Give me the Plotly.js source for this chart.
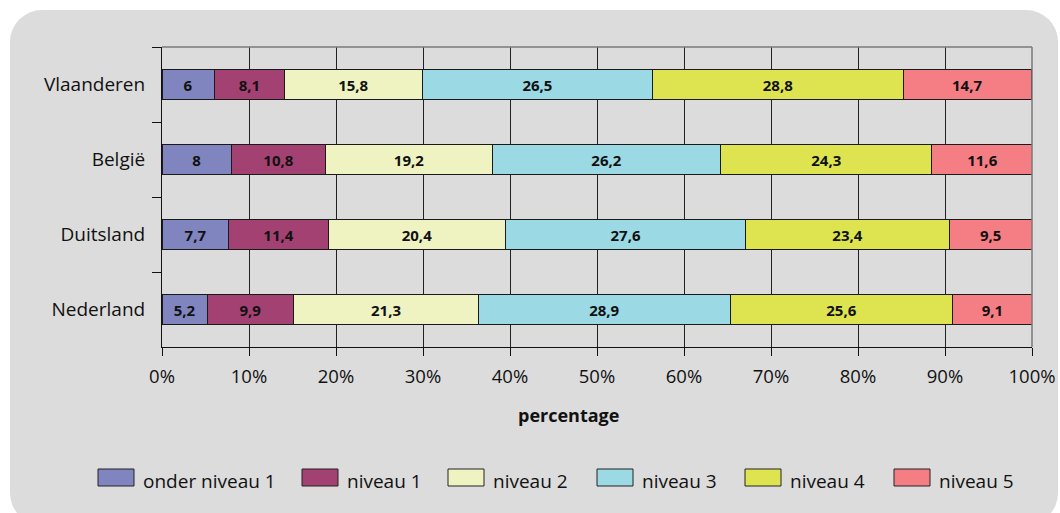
<!DOCTYPE html>
<html>
<head>
<meta charset="utf-8">
<script src="https://cdn.plot.ly/plotly-3.0.1.min.js"></script>
<style>
html,body{margin:0;padding:0;background:#ffffff;width:1060px;height:513px;overflow:hidden;}
#bg{position:absolute;left:10px;top:10px;width:1048px;height:515px;background:#dcdcdc;border-radius:32px;}
#chart{position:absolute;left:0;top:0;width:1060px;height:513px;}
</style>
</head>
<body>
<div id="bg"></div>
<div id="chart"></div>
<script>
const countries = ["Vlaanderen", "België", "Duitsland", "Nederland"];
const seriesNames = ["onder niveau 1", "niveau 1", "niveau 2", "niveau 3", "niveau 4", "niveau 5"];
const onderNiveau1 = [6, 8, 7.7, 5.2];
const niveau1 = [8.1, 10.8, 11.4, 9.9];
const niveau2 = [15.8, 19.2, 20.4, 21.3];
const niveau3 = [26.5, 26.2, 27.6, 28.9];
const niveau4 = [28.8, 24.3, 23.4, 25.6];
const niveau5 = [14.7, 11.6, 9.5, 9.1];
const colors = ["#8085c0", "#a34272", "#eff3c1", "#9bd9e5", "#dee44f", "#f57e85"];
const xTickVals = [0, 10, 20, 30, 40, 50, 60, 70, 80, 90, 100];
const xTickText = ["0%", "10%", "20%", "30%", "40%", "50%", "60%", "70%", "80%", "90%", "100%"];

const seriesValues = [onderNiveau1, niveau1, niveau2, niveau3, niveau4, niveau5];
const FONT = "Open Sans, sans-serif";

const traces = seriesValues.map((vals, i) => ({
  type: "bar",
  orientation: "h",
  name: seriesNames[i],
  y: countries,
  x: vals,
  width: 0.4,
  marker: {color: colors[i], line: {color: "#1a1a1a", width: 1}},
  text: vals.map(v => String(v).replace(".", ",")),
  textposition: "inside",
  insidetextanchor: "middle",
  textangle: 0,
  constraintext: "none",
  textfont: {family: FONT, size: 15, color: "#111", weight: 700},
  hoverinfo: "skip",
  showlegend: false
}));

// pixel helpers for plot area: x 162..1032, y 47..347
const L = 162, R = 1032, T = 47, B = 347;
const px = v => (v - L) / (R - L);
const py = v => (B - v) / (B - T);

const shapes = [
  {type: "line", xref: "paper", yref: "paper", x0: 0, x1: 1, y0: 1, y1: 1, line: {color: "#7a7a7a", width: 1.5}},
  {type: "line", xref: "paper", yref: "paper", x0: 1, x1: 1, y0: 0, y1: 1, line: {color: "#7a7a7a", width: 1.5}}
];
const annotations = [
  {xref: "paper", yref: "paper", x: px(568), y: py(415), text: "<b>percentage</b>", showarrow: false,
   font: {family: FONT, size: 18, color: "#111"}, xanchor: "center", yanchor: "middle"}
];
const legendBoxX = [98, 302, 448, 597, 745, 894];
seriesNames.forEach((n, i) => {
  const x0 = legendBoxX[i];
  shapes.push({type: "rect", xref: "paper", yref: "paper", x0: px(x0), x1: px(x0 + 36), y0: py(469), y1: py(486),
    fillcolor: colors[i], line: {color: "#222", width: 1}});
  annotations.push({xref: "paper", yref: "paper", x: px(x0 + 43), y: py(481), text: n, showarrow: false,
    xanchor: "left", yanchor: "middle", font: {family: FONT, size: 19, color: "#111"}});
});

const layout = {
  width: 1060, height: 513,
  margin: {l: L, r: 1060 - R, t: T, b: 513 - B, pad: 0},
  paper_bgcolor: "rgba(0,0,0,0)",
  plot_bgcolor: "rgba(0,0,0,0)",
  barmode: "stack",
  showlegend: false,
  font: {family: FONT, size: 17, color: "#111"},
  xaxis: {
    range: [0, 100], tickvals: xTickVals, ticktext: xTickText,
    showgrid: true, gridcolor: "#222", gridwidth: 1,
    zeroline: false, showline: true, linecolor: "#111", linewidth: 1,
    ticks: "outside", ticklen: 8, tickcolor: "#111", ticklabelstandoff: 5,
    tickfont: {family: FONT, size: 18.5, color: "#111"}, fixedrange: true
  },
  yaxis: {
    type: "category", autorange: "reversed",
    showgrid: false, zeroline: false, showline: true, linecolor: "#111", linewidth: 1,
    ticks: "outside", ticklen: 9, tickcolor: "#111", tickson: "boundaries", ticklabelstandoff: 12,
    tickfont: {family: FONT, size: 19, color: "#111"}, fixedrange: true
  },
  shapes: shapes,
  annotations: annotations
};

Plotly.newPlot("chart", traces, layout, {displayModeBar: false, staticPlot: true});
</script>
</body>
</html>
